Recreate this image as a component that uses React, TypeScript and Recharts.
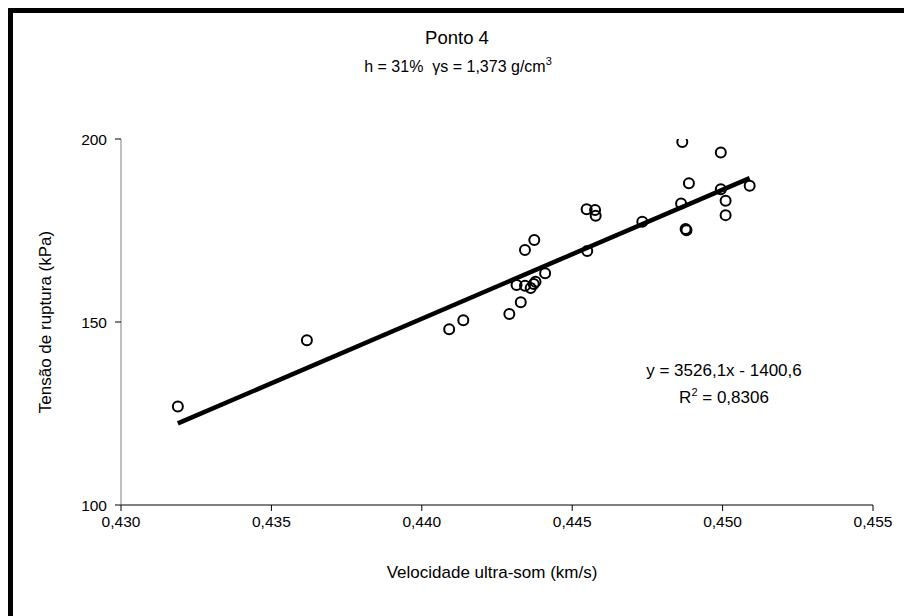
import React from "react";
import { ScatterChart, Scatter, XAxis, YAxis, ReferenceLine } from "recharts";

const velocity = [
  0.43189, 0.43618, 0.44091, 0.44138, 0.44291, 0.44329, 0.44315, 0.44343,
  0.44362, 0.44372, 0.44378, 0.44343, 0.44374, 0.4441, 0.44548, 0.44576,
  0.44578, 0.4455, 0.44733, 0.44862, 0.44866, 0.44888, 0.44877, 0.4488,
  0.44994, 0.44994, 0.4501, 0.4501, 0.4509,
];
const tension = [
  126.9, 145.0, 148.0, 150.5, 152.2, 155.4, 160.1, 159.9, 159.3, 160.4,
  161.0, 169.7, 172.4, 163.3, 180.8, 180.6, 179.0, 169.4, 177.4, 182.4,
  199.2, 187.9, 175.4, 175.1, 196.3, 186.3, 183.1, 179.2, 187.2,
];
const xTicks = [0.43, 0.435, 0.44, 0.445, 0.45, 0.455];
const yTicks = [100, 150, 200];
const slope = 3526.1;
const intercept = -1400.6;

const data = velocity.map((v, i) => ({ x: v, y: tension[i] }));
const xMin = Math.min(...velocity);
const xMax = Math.max(...velocity);

const FONT = "'Liberation Sans', Arial, sans-serif";
const TICK_SIZE = 15.5;

const OpenCircle = (props: any) => {
  const { cx, cy } = props;
  if (cx == null || cy == null) return null;
  return <circle cx={cx} cy={cy} r={5} fill="none" stroke="#000" strokeWidth={2} />;
};

const XTick = (props: any) => {
  const { x, y, payload } = props;
  return (
    <text
      x={x}
      y={y + 14}
      textAnchor="middle"
      fontSize={TICK_SIZE}
      fontFamily={FONT}
      fill="#000"
    >
      {Number(payload.value).toFixed(3).replace(".", ",")}
    </text>
  );
};

const YTick = (props: any) => {
  const { x, y, payload } = props;
  return (
    <text
      x={x - 2}
      y={y + 5.5}
      textAnchor="end"
      fontSize={TICK_SIZE}
      fontFamily={FONT}
      fill="#000"
    >
      {payload.value}
    </text>
  );
};

export default function App() {
  return (
    <div
      style={{
        position: "absolute",
        left: 0,
        top: 0,
        width: 904,
        height: 616,
        background: "#fff",
        overflow: "hidden",
        fontFamily: FONT,
      }}
    >
      <div
        style={{
          position: "absolute",
          left: 8,
          top: 8,
          width: 904,
          height: 616,
          borderLeft: "5px solid #000",
          borderTop: "5px solid #000",
          boxSizing: "border-box",
        }}
      />
      <ScatterChart
        width={904}
        height={616}
        margin={{ top: 139, right: 31, bottom: 50, left: 61 }}
        style={{ position: "absolute", left: 0, top: 0 }}
      >
        <XAxis
          type="number"
          dataKey="x"
          domain={[0.43, 0.455]}
          ticks={xTicks}
          stroke="#000"
          tick={<XTick />}
          tickSize={6}
          tickMargin={2}
          tickLine={{ stroke: "#000" }}
          height={61}
          allowDataOverflow
        />
        <YAxis
          type="number"
          dataKey="y"
          domain={[100, 200]}
          ticks={yTicks}
          stroke="#808080"
          tick={<YTick />}
          tickSize={6}
          tickMargin={6}
          tickLine={{ stroke: "#000" }}
          width={60}
          allowDataOverflow
        />
        <ReferenceLine
          segment={[
            { x: xMin, y: slope * xMin + intercept },
            { x: xMax, y: slope * xMax + intercept },
          ]}
          stroke="#000"
          strokeWidth={4.5}
          ifOverflow="visible"
        />
        <Scatter data={data} shape={<OpenCircle />} isAnimationActive={false} />
      </ScatterChart>
      <svg
        width={904}
        height={616}
        style={{ position: "absolute", left: 0, top: 0, pointerEvents: "none" }}
      >
        <text x={457} y={44} textAnchor="middle" fontSize={18.5} fontFamily={FONT} fill="#000">
          Ponto 4
        </text>
        <text x={458} y={72} textAnchor="middle" fontSize={16} fontFamily={FONT} fill="#000">
          h = 31%{"\u00a0\u00a0"}γs = 1,373 g/cm
          <tspan dy={-7} fontSize={11}>3</tspan>
        </text>
        <text x={724} y={376} textAnchor="middle" fontSize={17} fontFamily={FONT} fill="#000">
          y = 3526,1x - 1400,6
        </text>
        <text x={724} y={403} textAnchor="middle" fontSize={17} fontFamily={FONT} fill="#000">
          R
          <tspan dy={-7} fontSize={11}>2</tspan>
          <tspan dy={7}> = 0,8306</tspan>
        </text>
        <text x={492} y={578} textAnchor="middle" fontSize={17} fontFamily={FONT} fill="#000">
          Velocidade ultra-som (km/s)
        </text>
        <text
          x={0}
          y={0}
          transform="translate(51 322) rotate(-90)"
          textAnchor="middle"
          fontSize={17}
          fontFamily={FONT}
          fill="#000"
        >
          Tensão de ruptura (kPa)
        </text>
      </svg>
    </div>
  );
}
